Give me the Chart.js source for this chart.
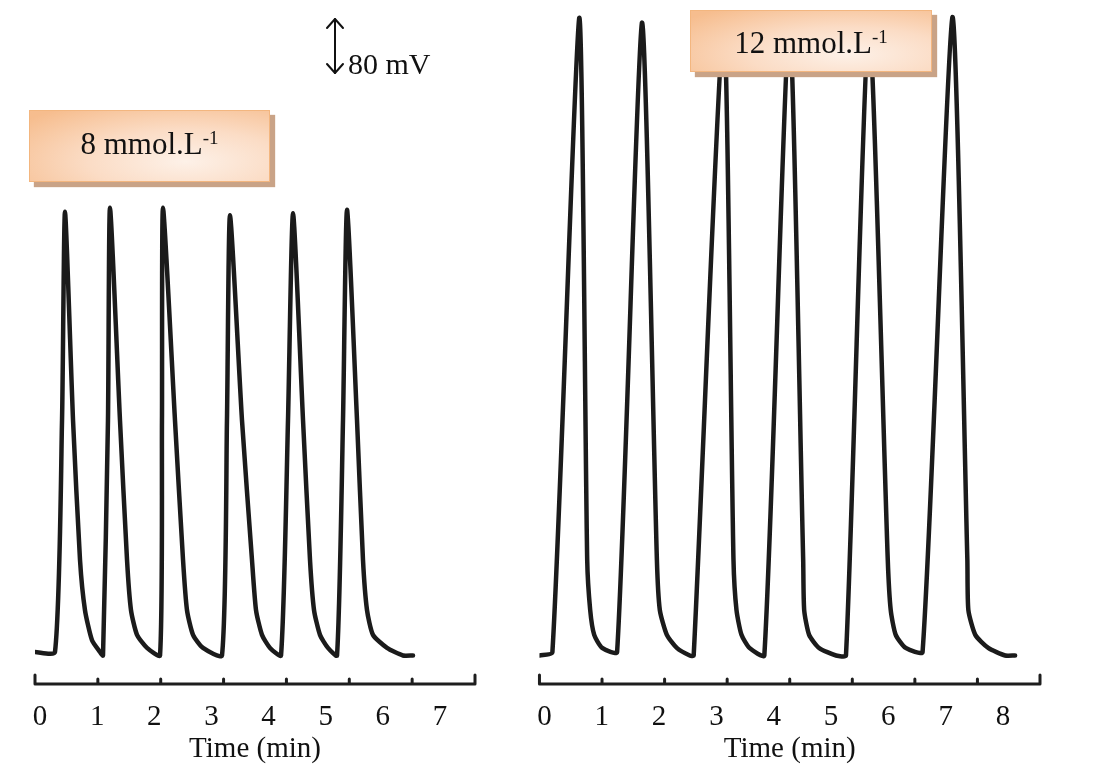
<!DOCTYPE html>
<html>
<head>
<meta charset="utf-8">
<script src="https://cdn.jsdelivr.net/npm/chart.js@4"></script>
<style>
  html, body { margin: 0; padding: 0; background: #fff; }
  body { width: 1103px; height: 769px; position: relative; overflow: hidden;
         font-family: "Liberation Serif", "Times New Roman", serif; color: #111; }
  canvas { position: absolute; top: 0; }
  #chartLeft { left: 0; }
  #chartRight { left: 520px; }
  .conc { position: absolute; box-sizing: border-box; border: 1px solid #f3b67f;
          background: radial-gradient(ellipse 85% 95% at 65% 72%, #fdf1e8 0%, #fbdcc5 48%, #f6bd8e 100%);
          box-shadow: 5px 5px 1px #c9a387; text-align: center; font-size: 31px; white-space: nowrap; }
  .conc sup { font-size: 19px; line-height: 0; vertical-align: 0.55em; }
  #conc8 { left: 29px; top: 110px; width: 241px; height: 72px; line-height: 66px; }
  #conc12 { left: 690px; top: 10px; width: 242px; height: 62px; line-height: 63px; z-index: 2; }
  #scaleBar { position: absolute; left: 320px; top: 10px; width: 140px; height: 80px; }
  #scaleText { position: absolute; left: 348px; top: 46px; font-size: 30px; line-height: 36px; }
</style>
</head>
<body>
<canvas id="chartLeft" width="520" height="769"></canvas>
<canvas id="chartRight" width="583" height="769"></canvas>

<div id="conc8" class="conc">8 mmol.L<sup>-1</sup></div>
<div id="conc12" class="conc">12 mmol.L<sup>-1</sup></div>

<svg id="scaleBar" width="140" height="80">
  <g stroke="#111" stroke-width="2" fill="none" stroke-linecap="round" stroke-linejoin="round">
    <line x1="15" y1="9" x2="15" y2="63"/>
    <polyline points="7,18 15,9 23,18"/>
    <polyline points="7,54 15,63 23,54"/>
  </g>
</svg>
<div id="scaleText">80 mV</div>

<script>
// 8 mmol.L-1 : temps (min) et potentiel (mV, par rapport à la ligne de base)
const leftTime = [0, 0.318, 0.430, 0.477, 0.605, 0.716, 0.795, 0.907, 1.034, 1.082,
    1.161, 1.193, 1.352, 1.464, 1.527, 1.623, 1.782, 1.989, 2.020, 2.036,
    2.227, 2.355, 2.418, 2.514, 2.673, 2.975, 3.054, 3.102, 3.293, 3.452,
    3.516, 3.611, 3.739, 3.914, 4.025, 4.105, 4.264, 4.375, 4.439, 4.534,
    4.661, 4.805, 4.900, 4.964, 5.123, 5.218, 5.282, 5.377, 5.600, 5.854, 6.014];
const leftPotential = [5, 5, 342, 645, 342, 139, 66, 22, 5, 0,
    342, 651, 342, 139, 66, 30, 11, 0, 342, 651,
    342, 139, 66, 30, 11, 0, 342, 640, 342, 139,
    66, 30, 11, 0, 342, 643, 342, 139, 66, 30,
    11, 0, 342, 648, 342, 139, 66, 30, 11, 0, 0];

// 12 mmol.L-1
const rightTime = [0, 0.207, 0.636, 0.763, 0.811, 0.875, 1.002, 1.241, 1.638, 1.877,
    1.924, 2.036, 2.195, 2.402, 2.465, 2.942, 3.101, 3.149, 3.229, 3.356,
    3.594, 3.992, 4.215, 4.231, 4.310, 4.469, 4.740, 4.899, 5.264, 5.567,
    5.614, 5.694, 5.853, 6.123, 6.600, 6.839, 6.855, 6.966, 7.173, 7.443, 7.602];
const rightPotential = [0, 5, 927, 139, 66, 30, 11, 5, 920, 139,
    66, 30, 11, 0, 0, 924, 139, 66, 30, 11,
    0, 924, 139, 66, 30, 11, 0, 0, 924, 139,
    66, 30, 11, 5, 928, 139, 66, 30, 11, 0, 0];

// marques de temps du papier enregistreur et étiquettes de l'axe
const leftMarks = [0, 1, 2, 3, 4, 5, 6, 7];
const rightMarks = [0, 1, 2, 3, 4, 5, 6, 7, 8];
const leftTickLabels = [0, 1, 2, 3, 4, 5, 6, 7];
const rightTickLabels = [0, 1, 2, 3, 4, 5, 6, 7, 8];
const axisTitle = 'Time (min)';

const serif = '"Liberation Serif", "Times New Roman", serif';

// ligne de base du papier avec petites marques vers le haut
const paperAxis = {
    id: 'paperAxis',
    afterDatasetsDraw(chart, args, opts) {
        const sx = chart.scales.x;
        const ctx = chart.ctx;
        const y0 = chart.chartArea.bottom + 1;
        const marks = opts.marks;
        const xa = sx.getPixelForValue(marks[0]);
        const xb = sx.getPixelForValue(marks[marks.length - 1]);
        ctx.save();
        ctx.strokeStyle = '#1e1e1e';
        ctx.lineWidth = 3;
        ctx.lineCap = 'round';
        ctx.lineJoin = 'round';
        ctx.beginPath();
        ctx.moveTo(xa, y0 - 9);
        ctx.lineTo(xa, y0);
        ctx.lineTo(xb, y0);
        ctx.lineTo(xb, y0 - 9);
        marks.slice(1, -1).forEach(m => {
            const px = sx.getPixelForValue(m);
            ctx.moveTo(px, y0);
            ctx.lineTo(px, y0 - 5);
        });
        ctx.stroke();
        ctx.restore();
    }
};

function makePanel(id, times, potentials, marks, tickLabels, labelMin, labelMax, padLeft, padRight) {
    const ctx = document.getElementById(id).getContext('2d');
    return new Chart(ctx, {
        type: 'line',
        data: {
            datasets: [{
                data: times.map((t, i) => ({ x: t, y: potentials[i] })),
                borderColor: '#1b1b1b',
                borderWidth: 4.5,
                borderJoinStyle: 'round',
                borderCapStyle: 'round',
                pointRadius: 0,
                tension: 0.2,
                fill: false
            }]
        },
        options: {
            responsive: false,
            animation: false,
            devicePixelRatio: 1,
            layout: { padding: { left: padLeft, right: padRight, top: 0, bottom: 0 } },
            plugins: {
                legend: { display: false },
                tooltip: { enabled: false },
                paperAxis: { marks: marks }
            },
            scales: {
                x: {
                    type: 'linear',
                    display: false,
                    min: marks[0],
                    max: marks[marks.length - 1]
                },
                xLab: {
                    type: 'linear',
                    position: 'bottom',
                    min: labelMin,
                    max: labelMax,
                    grid: { display: false, drawTicks: false },
                    border: { display: false },
                    afterBuildTicks: scale => { scale.ticks = tickLabels.map(v => ({ value: v })); },
                    afterFit: scale => { scale.height = 86; },
                    ticks: {
                        autoSkip: false,
                        maxRotation: 0,
                        padding: 17,
                        color: '#111',
                        font: { family: serif, size: 29 },
                        callback: v => String(v)
                    },
                    title: {
                        display: true,
                        text: axisTitle,
                        color: '#111',
                        padding: { top: 0, bottom: 2 },
                        font: { family: serif, size: 29 }
                    }
                },
                y: {
                    type: 'linear',
                    display: false,
                    min: -40,
                    max: 953
                }
            }
        },
        plugins: [paperAxis]
    });
}

makePanel('chartLeft', leftTime, leftPotential, leftMarks, leftTickLabels, -0.0875, 7.6125, 35, 45);
makePanel('chartRight', rightTime, rightPotential, rightMarks, rightTickLabels, -0.087, 8.646, 17, 63);
</script>
</body>
</html>
